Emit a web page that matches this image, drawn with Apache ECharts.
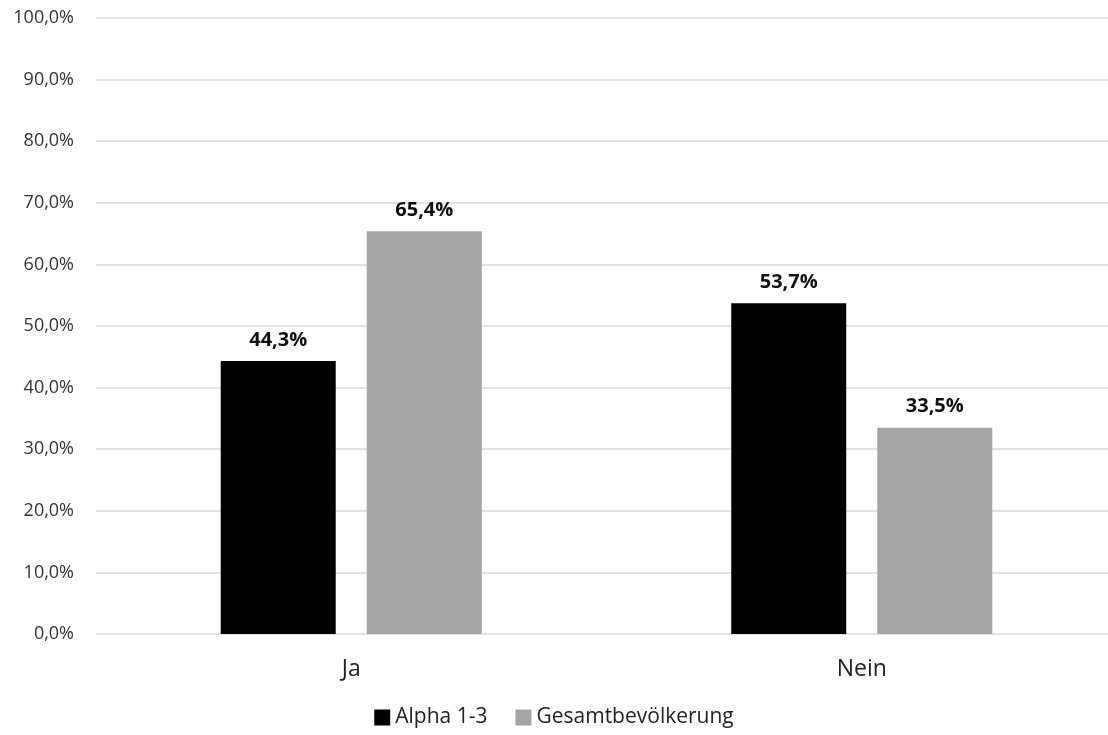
<!DOCTYPE html>
<html>
<head>
<meta charset="utf-8">
<script src="https://cdn.jsdelivr.net/npm/echarts@6/dist/echarts.min.js"></script>
<style>
  html, body { margin: 0; padding: 0; background: #fff; }
  #chart { width: 1108px; height: 735px; }
</style>
</head>
<body>
<div id="chart"></div>
<script>
// categories and values
var categories = ['Ja', 'Nein'];
var alphaValues = [44.3, 53.7];
var gesamtValues = [65.4, 33.5];
var seriesNames = ['Alpha 1-3', 'Gesamtbevölkerung'];

function pct(v) {
	return v.toFixed(1).replace('.', ',') + '%';
}

var chart = echarts.init(document.getElementById('chart'));

var labelStyle = {
	show: true,
	position: 'top',
	distance: 11,
	fontFamily: 'Open Sans',
	fontWeight: 'bold',
	fontSize: 20,
	color: '#111',
	formatter: function (p) { return pct(p.value); }
};

var option = {
	animation: false,
	textStyle: { fontFamily: 'Open Sans' },
	legend: {
		bottom: 2,
		left: 'center',
		itemWidth: 16,
		itemHeight: 16,
		itemGap: 28,
		icon: 'rect',
		textStyle: { fontSize: 21, color: '#222', fontFamily: 'Open Sans' },
		data: seriesNames
	},
	grid: {
		left: 96,
		top: 18,
		width: 1021,
		bottom: 101,
		containLabel: false,
		outerBoundsMode: 'none'
	},
	xAxis: {
		type: 'category',
		data: categories,
		axisLine: { show: false },
		axisTick: { show: false },
		axisLabel: { fontSize: 23, color: '#222', margin: 24 }
	},
	yAxis: {
		type: 'value',
		min: 0,
		max: 100,
		interval: 10,
		axisLine: { show: false },
		axisTick: { show: false },
		axisLabel: {
			fontSize: 18,
			color: '#333',
			margin: 22,
			formatter: function (v) { return pct(v); }
		},
		splitLine: { lineStyle: { color: '#d9d9d9', width: 1.5 } }
	},
	series: [
		{
			name: seriesNames[0],
			type: 'bar',
			data: alphaValues,
			barWidth: 115,
			barGap: '27%',
			itemStyle: { color: '#000000' },
			label: labelStyle
		},
		{
			name: seriesNames[1],
			type: 'bar',
			data: gesamtValues,
			barWidth: 115,
			itemStyle: { color: '#a5a5a5' },
			label: labelStyle
		}
	]
};

chart.setOption(option);
</script>
</body>
</html>
